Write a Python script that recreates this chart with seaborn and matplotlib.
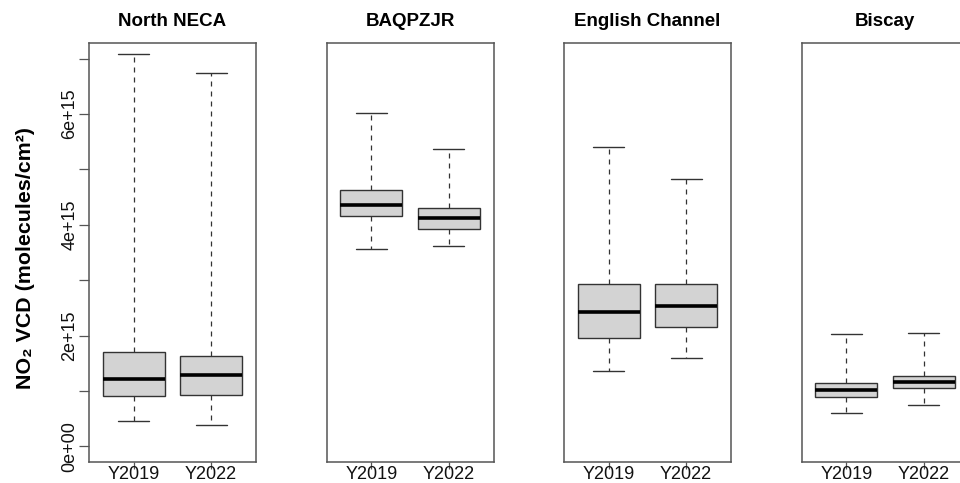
import numpy as np
import pandas as pd
import matplotlib
matplotlib.use("Agg")
import matplotlib.pyplot as plt
import seaborn as sns

# Werte in 1e15 molecules/cm²
regions = ["North NECA", "BAQPZJR", "English Channel", "Biscay"]
years = ["Y2019", "Y2022"]

# je Region: [Y2019, Y2022]
lower_whisker = {"North NECA": [0.46, 0.39], "BAQPZJR": [3.57, 3.61],
                 "English Channel": [1.37, 1.60], "Biscay": [0.60, 0.75]}
q1 = {"North NECA": [0.915, 0.93], "BAQPZJR": [4.16, 3.93],
      "English Channel": [1.96, 2.15], "Biscay": [0.90, 1.05]}
median = {"North NECA": [1.21, 1.29], "BAQPZJR": [4.36, 4.13],
          "English Channel": [2.42, 2.54], "Biscay": [1.02, 1.16]}
q3 = {"North NECA": [1.71, 1.64], "BAQPZJR": [4.63, 4.31],
      "English Channel": [2.93, 2.93], "Biscay": [1.14, 1.28]}
upper_whisker = {"North NECA": [7.08, 6.73], "BAQPZJR": [6.01, 5.36],
                 "English Channel": [5.40, 4.83], "Biscay": [2.03, 2.04]}

y_ticks = [0, 1, 2, 3, 4, 5, 6, 7]
y_tick_labels = ["0e+00", "", "2e+15", "", "4e+15", "", "6e+15", ""]

# Tabelle: 5 Kennwerte pro Box -> mit whis=(0,100) exakt die Boxplot-Statistik
rows = []
for r in regions:
    for i, y in enumerate(years):
        for stat in (lower_whisker, q1, median, q3, upper_whisker):
            rows.append({"region": r, "year": y, "value": stat[r][i] * 1e15})
df = pd.DataFrame(rows)

sns.set_style("white")
plt.rcParams["font.family"] = ["Liberation Sans", "DejaVu Sans"]
plt.rcParams["text.color"] = "black"

fig = plt.figure(figsize=(9.6, 4.83), dpi=100)

W, H = 960, 483
frame_color = "#555555"
line_color = "#333333"

for k, r in enumerate(regions):
    left = 89 + k * 237.5
    ax = fig.add_axes([left / W, 1 - 462 / H, 167 / W, (462 - 43) / H])
    sns.boxplot(data=df[df["region"] == r], x="year", y="value", order=years, ax=ax,
                whis=(0, 100), width=0.8, color="#D3D3D3", saturation=1,
                linecolor=line_color, linewidth=1.0, fliersize=0,
                medianprops=dict(color="black", linewidth=2.6),
                whiskerprops=dict(linestyle=(0, (4, 4)), linewidth=0.9),
                capprops=dict(linewidth=1.0))
    ax.set_xlim(-0.58, 1.58)
    ax.set_ylim(-0.28e15, 7.28e15)
    ax.set_xlabel("")
    ax.set_ylabel("")
    ax.set_title(r, fontsize=13.5, fontweight="bold", pad=12, color="black")
    for s in ax.spines.values():
        s.set_visible(True)
        s.set_color(frame_color)
        s.set_linewidth(1.1)
    ax.tick_params(axis="x", direction="out", length=5, width=0.9, color=frame_color,
                   labelsize=13, pad=-2, bottom=True, labelcolor="#111111")
    if k == 0:
        ax.set_yticks([t * 1e15 for t in y_ticks])
        ax.set_yticklabels(y_tick_labels, rotation=90, va="center")
        ax.tick_params(axis="y", direction="out", length=7, width=0.9, color=frame_color,
                       labelsize=13, pad=0.5, left=True, labelcolor="#111111")
    else:
        ax.set_yticks([])

fig.text(26 / W, 1 - 258 / H, "NO₂ VCD (molecules/cm²)", rotation=90,
         ha="center", va="center", fontsize=15.4, fontweight="bold")

fig.savefig("out.png", dpi=100)
